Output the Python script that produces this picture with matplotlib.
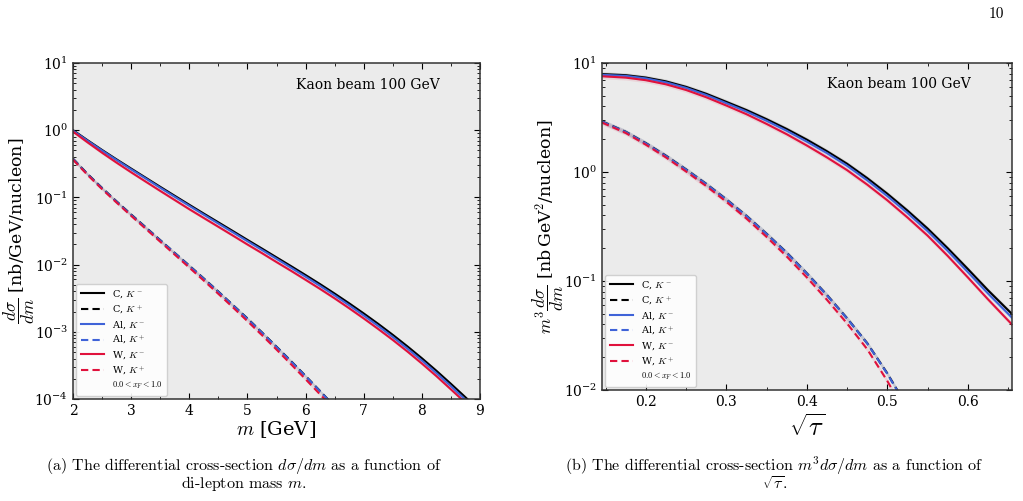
import numpy as np
import matplotlib
matplotlib.use("Agg")
import matplotlib.pyplot as plt
from matplotlib.lines import Line2D

plt.rcParams['font.family'] = 'DejaVu Serif'
plt.rcParams['mathtext.fontset'] = 'cm'

# ---- panel (a): dsigma/dm vs m ----
m = [2.0, 2.25, 2.5, 2.75, 3.0, 3.25, 3.5, 3.75, 4.0, 4.25, 4.5, 4.75, 5.0, 5.25, 5.5,
     5.75, 6.0, 6.25, 6.5, 6.75, 7.0, 7.25, 7.5, 7.75, 8.0, 8.25, 8.5, 8.75, 9.0]
c_km = [1.0, 0.708, 0.507, 0.367, 0.268, 0.196, 0.1435, 0.1054, 0.0776, 0.0573, 0.0425,
        0.0315, 0.0233, 0.0173, 0.0128, 0.00948, 0.00698, 0.00511, 0.0037, 0.00265,
        0.001875, 0.00131, 0.0009, 0.000608, 0.000404, 0.000263, 0.000168, 0.000106, 0.0000662]
al_km = [0.985, 0.696, 0.497, 0.359, 0.261, 0.191, 0.139, 0.102, 0.0749, 0.0552, 0.0408,
         0.0302, 0.0223, 0.0165, 0.0122, 0.00898, 0.0066, 0.00482, 0.00348, 0.00248,
         0.00175, 0.00122, 0.000837, 0.000564, 0.000374, 0.000243, 0.000155, 0.0000973, 0.0000606]
w_km = [0.95, 0.658, 0.461, 0.328, 0.236, 0.1715, 0.1248, 0.0912, 0.0667, 0.0493, 0.0365,
        0.027, 0.0199, 0.0148, 0.0109, 0.00808, 0.00593, 0.00434, 0.00314, 0.00224,
        0.00158, 0.0011, 0.000756, 0.00051, 0.000337, 0.000219, 0.000139, 0.0000878, 0.0000546]

m_p = [2.0, 2.25, 2.5, 2.75, 3.0, 3.25, 3.5, 3.75, 4.0, 4.25, 4.5, 4.75, 5.0, 5.25, 5.5,
       5.75, 6.0, 6.25, 6.5, 6.75]
c_kp = [0.376, 0.223, 0.138, 0.087, 0.0556, 0.0359, 0.0231, 0.0149, 0.00965, 0.0062,
        0.00396, 0.0025, 0.00158, 0.000978, 0.0006, 0.000366, 0.00022, 0.000131, 0.0000774, 0.0000451]
al_kp = [0.372, 0.221, 0.1365, 0.0861, 0.055, 0.0355, 0.0229, 0.0148, 0.00955, 0.00614,
         0.00392, 0.00248, 0.00156, 0.000968, 0.000594, 0.000362, 0.000218, 0.00013, 0.0000766, 0.0000447]
w_kp = [0.363, 0.2155, 0.1324, 0.0835, 0.0531, 0.0341, 0.0219, 0.01406, 0.00902, 0.00577,
        0.00367, 0.00231, 0.00144, 0.000891, 0.000544, 0.000329, 0.000197, 0.000117, 0.0000686, 0.0000398]

# ---- panel (b): m^3 dsigma/dm vs sqrt(tau) ----
st = [0.1456, 0.175, 0.2, 0.225, 0.25, 0.275, 0.3, 0.325, 0.35, 0.375, 0.4, 0.425, 0.45,
      0.475, 0.5, 0.525, 0.55, 0.575, 0.6, 0.625, 0.655]
c_km_b = [7.91, 7.73, 7.35, 6.78, 6.04, 5.22, 4.40, 3.70, 3.05, 2.48, 1.98, 1.55, 1.19,
          0.879, 0.632, 0.443, 0.303, 0.200, 0.129, 0.0824, 0.0497]
al_km_b = [7.79, 7.61, 7.22, 6.64, 5.91, 5.09, 4.28, 3.59, 2.95, 2.39, 1.90, 1.49, 1.14,
           0.839, 0.602, 0.421, 0.287, 0.189, 0.121, 0.0770, 0.0460]
w_km_b = [7.55, 7.34, 6.95, 6.37, 5.65, 4.85, 4.07, 3.39, 2.76, 2.22, 1.75, 1.36, 1.04,
          0.766, 0.550, 0.383, 0.261, 0.170, 0.108, 0.0680, 0.0398]

st_p = [0.1456, 0.175, 0.2, 0.225, 0.25, 0.275, 0.3, 0.325, 0.35, 0.375, 0.4, 0.425,
        0.45, 0.475, 0.5, 0.52, 0.54]
c_kp_b = [2.91, 2.34, 1.84, 1.41, 1.055, 0.778, 0.561, 0.396, 0.271, 0.182, 0.1176, 0.0744,
          0.0455, 0.0269, 0.0142, 0.0080, 0.0043]
al_kp_b = [2.90, 2.33, 1.83, 1.40, 1.05, 0.774, 0.558, 0.394, 0.270, 0.181, 0.117, 0.0740,
           0.0453, 0.0268, 0.0141, 0.0079, 0.0043]
w_kp_b = [2.84, 2.28, 1.78, 1.36, 1.01, 0.743, 0.533, 0.374, 0.254, 0.168, 0.108, 0.0673,
          0.0408, 0.0237, 0.0121, 0.0066, 0.0035]

labels = ['C, $K^-$', 'C, $K^+$', 'Al, $K^-$', 'Al, $K^+$', 'W, $K^-$', 'W, $K^+$']
colors = ['black', '#3f63d8', '#e0113c']

fig = plt.figure(figsize=(10.23, 5.01), dpi=100)
ax1 = fig.add_axes([0.0714, 0.2036, 0.3978, 0.6707])
ax2 = fig.add_axes([0.5885, 0.2216, 0.4008, 0.6527])


def draw(ax, xs, xd, solids, dashes):
    for i, (col, ys, yd) in enumerate(zip(colors, solids, dashes)):
        ys = np.array(ys)
        yd = np.array(yd)
        ax.fill_between(xs, ys * 0.95, ys * 1.05, color=col, alpha=0.10, lw=0)
        ax.fill_between(xd, yd * 0.95, yd * 1.05, color=col, alpha=0.10, lw=0)
        ax.plot(xs, ys, color=col, lw=1.5, label=labels[2 * i])
        ax.plot(xd, yd, color=col, lw=1.5, ls=(0, (3.5, 2)), label=labels[2 * i + 1])
    ax.set_yscale('log')
    ax.set_facecolor('#ebebeb')
    ax.tick_params(which='both', direction='in', top=True, right=True, labelsize=10)
    ax.tick_params(which='major', length=4)
    ax.tick_params(which='minor', length=2)
    for s in ax.spines.values():
        s.set_color('#333333')
        s.set_linewidth(1.1)
    extra = Line2D([], [], ls='none', label=r'$0.0 < x_F < 1.0$')
    h, l = ax.get_legend_handles_labels()
    leg = ax.legend(h + [extra], l + [extra.get_label()], loc='lower left', fontsize=7,
                    frameon=True, fancybox=True, framealpha=0.9, edgecolor='#cccccc',
                    handlelength=2.4, borderaxespad=0.35, labelspacing=0.32,
                    handletextpad=0.8, borderpad=0.45)
    leg.get_texts()[-1].set_fontsize(6)
    ax.text(0.725, 0.935, 'Kaon beam 100 GeV', transform=ax.transAxes, ha='center',
            va='center', fontsize=10)


draw(ax1, m, m_p, [c_km, al_km, w_km], [c_kp, al_kp, w_kp])
ax1.set_xlim(2, 9)
ax1.set_ylim(1e-4, 10)
ax1.set_xticks(range(2, 10))
ax1.xaxis.set_minor_locator(matplotlib.ticker.MultipleLocator(0.5))
ax1.set_xlabel('$m$ [GeV]', fontsize=14, labelpad=1)
ax1.set_ylabel(r'$\dfrac{d\sigma}{dm}$ [nb/GeV/nucleon]', fontsize=12.5)
ax1.yaxis.set_label_coords(-0.088, 0.5)

draw(ax2, st, st_p, [c_km_b, al_km_b, w_km_b], [c_kp_b, al_kp_b, w_kp_b])
ax2.set_xlim(0.1456, 0.655)
ax2.set_ylim(1e-2, 10)
ax2.set_xticks([0.2, 0.3, 0.4, 0.5, 0.6])
ax2.xaxis.set_minor_locator(matplotlib.ticker.MultipleLocator(0.05))
ax2.set_xlabel(r'$\sqrt{\tau}$', fontsize=19, labelpad=4)
ax2.set_ylabel(r'$m^3\dfrac{d\sigma}{dm}$ [nb$\,$GeV$^2$/nucleon]', fontsize=12.5)
ax2.yaxis.set_label_coords(-0.088, 0.5)

# captions and page number
fig.text(0.982, 0.972, '10', fontsize=11, ha='right', va='center', family='cmr10')
fig.text(0.238, 0.070, r'(a) The differential cross-section $d\sigma/dm$ as a function of',
         fontsize=11.5, ha='center', va='center', family='cmr10')
fig.text(0.238, 0.034, r'di-lepton mass $m$.', fontsize=11.5, ha='center', va='center', family='cmr10')
fig.text(0.757, 0.070, r'(b) The differential cross-section $m^3d\sigma/dm$ as a function of',
         fontsize=11.5, ha='center', va='center', family='cmr10')
fig.text(0.757, 0.034, r'$\sqrt{\tau}$.', fontsize=11.5, ha='center', va='center', family='cmr10')

fig.savefig('out.png', dpi=100)
